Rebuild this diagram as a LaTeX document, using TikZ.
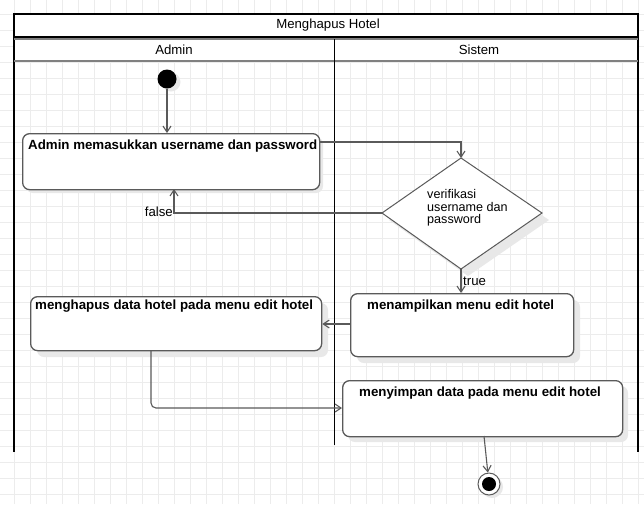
\documentclass[tikz,border=0pt]{standalone}
\usepackage{fontspec}
\setmainfont{Liberation Sans}
\usetikzlibrary{shapes.geometric,arrows.meta}
\definecolor{gridc}{RGB}{236,236,236}
\definecolor{shad}{RGB}{232,232,232}
\definecolor{edgec}{RGB}{90,90,90}
\begin{document}
\begin{tikzpicture}[x=1pt,y=-1pt,
  act/.style={draw=edgec,line width=1.3pt,rounded corners=7pt,fill=white},
  actshadow/.style={fill=shad,rounded corners=7pt},
  acttext/.style={font=\bfseries\fontsize{13.3}{15}\selectfont,anchor=north west,inner sep=0pt},
  flow/.style={draw=edgec,line width=1.1pt,-{Straight Barb[length=6pt,width=8pt]}},
  lbl/.style={font=\fontsize{13.2}{15}\selectfont,inner sep=0pt},
  lane/.style={draw=black,line width=2pt}]
\useasboundingbox (0,0) rectangle (644,504);
\fill[white] (0,0) rectangle (644,504);
% grid
\foreach \i in {0,...,40} {\draw[gridc,line width=0.9pt] ({-2+16*\i},0) -- ({-2+16*\i},504);}
\foreach \j in {0,...,32} {\draw[gridc,line width=0.9pt] (0,{-1.5+16*\j}) -- (644,{-1.5+16*\j});}
% pool
\fill[white] (14,14) rectangle (638,61);
\draw[lane] (14,452) -- (14,14) -- (638,14) -- (638,452);
\draw[black,line width=2pt] (14,37) -- (638,37);
\draw[gray,line width=1.5pt] (14,39) -- (638,39);
\draw[gray,line width=1.5pt] (14,61) -- (638,61);
\draw[black,line width=1pt] (334,39) -- (334,445);
\node[lbl] (title) at (328,25.5) {Menghapus Hotel};
\node[lbl] (admin) at (174,50) {Admin};
\node[lbl] (sistem) at (479,50) {Sistem};
% start
\fill[shad] (171,82) circle (9.5);
\node[circle,fill=black,minimum size=19pt,inner sep=0pt] (start) at (167,79) {};
% action 1
\fill[actshadow] (26,137) rectangle (323,193);
\node[act,minimum width=297pt,minimum height=56pt,anchor=north west] (a1) at (22,133) {};
\node[acttext] (t1) at (28,140) {Admin memasukkan username dan password};
% diamond
\fill[shad] (468,165) -- (549,220) -- (468,276) -- (389,220) -- cycle;
\draw[edgec,line width=1pt,fill=white] (461,158) -- (542,213) -- (461,269) -- (382,213) -- cycle;
\coordinate (dtop) at (461,158);
\coordinate (dleft) at (382,213);
\coordinate (dbot) at (461,269);
\node[lbl,align=left,anchor=north west,font=\fontsize{12.6}{12.8}\selectfont] (dt) at (427,189) {verifikasi\\username dan\\password};
% action 3
\fill[actshadow] (357,300) rectangle (580,363);
\node[act,minimum width=223pt,minimum height=63pt,anchor=north west] (a3) at (350,293) {};
\node[acttext] (t3) at (367,300) {menampilkan menu edit hotel};
% action 2
\fill[actshadow] (37,303) rectangle (328,357);
\node[act,minimum width=291pt,minimum height=54pt,anchor=north west] (a2) at (30,296) {};
\node[acttext] (t2) at (35,300) {menghapus data hotel pada menu edit hotel};
% action 4
\fill[actshadow] (348,386) rectangle (628,442);
\node[act,minimum width=280pt,minimum height=56pt,anchor=north west] (a4) at (342,380) {};
\node[acttext] (t4) at (359,387) {menyimpan data pada menu edit hotel};
% end
\fill[shad] (492,487) circle (11);
\node[circle,draw=edgec,line width=1pt,fill=white,minimum size=22pt,inner sep=0pt] (end) at (489,484) {};
\fill[black] (end.center) circle (7);
% flows
\draw[flow] (start) -- (a1.north -| start);
\draw[flow] ([yshift=-9pt]a1.north east) -| (dtop);
\draw[flow] (dleft) -| (174,189);
\node[lbl,anchor=east] (false) at (173,212) {false};
\draw[flow] (dbot) -- (a3.north -| dbot);
\node[lbl,anchor=west] (true) at (463,281) {true};
\draw[flow] (a3.west |- 0,324) -- (a2.east |- 0,324);
\draw[flow,rounded corners=5pt] (151,350) -- (151,408) -- (a4.west |- 0,408);
\draw[flow] (484,436) -- (end);
\end{tikzpicture}
\end{document}
